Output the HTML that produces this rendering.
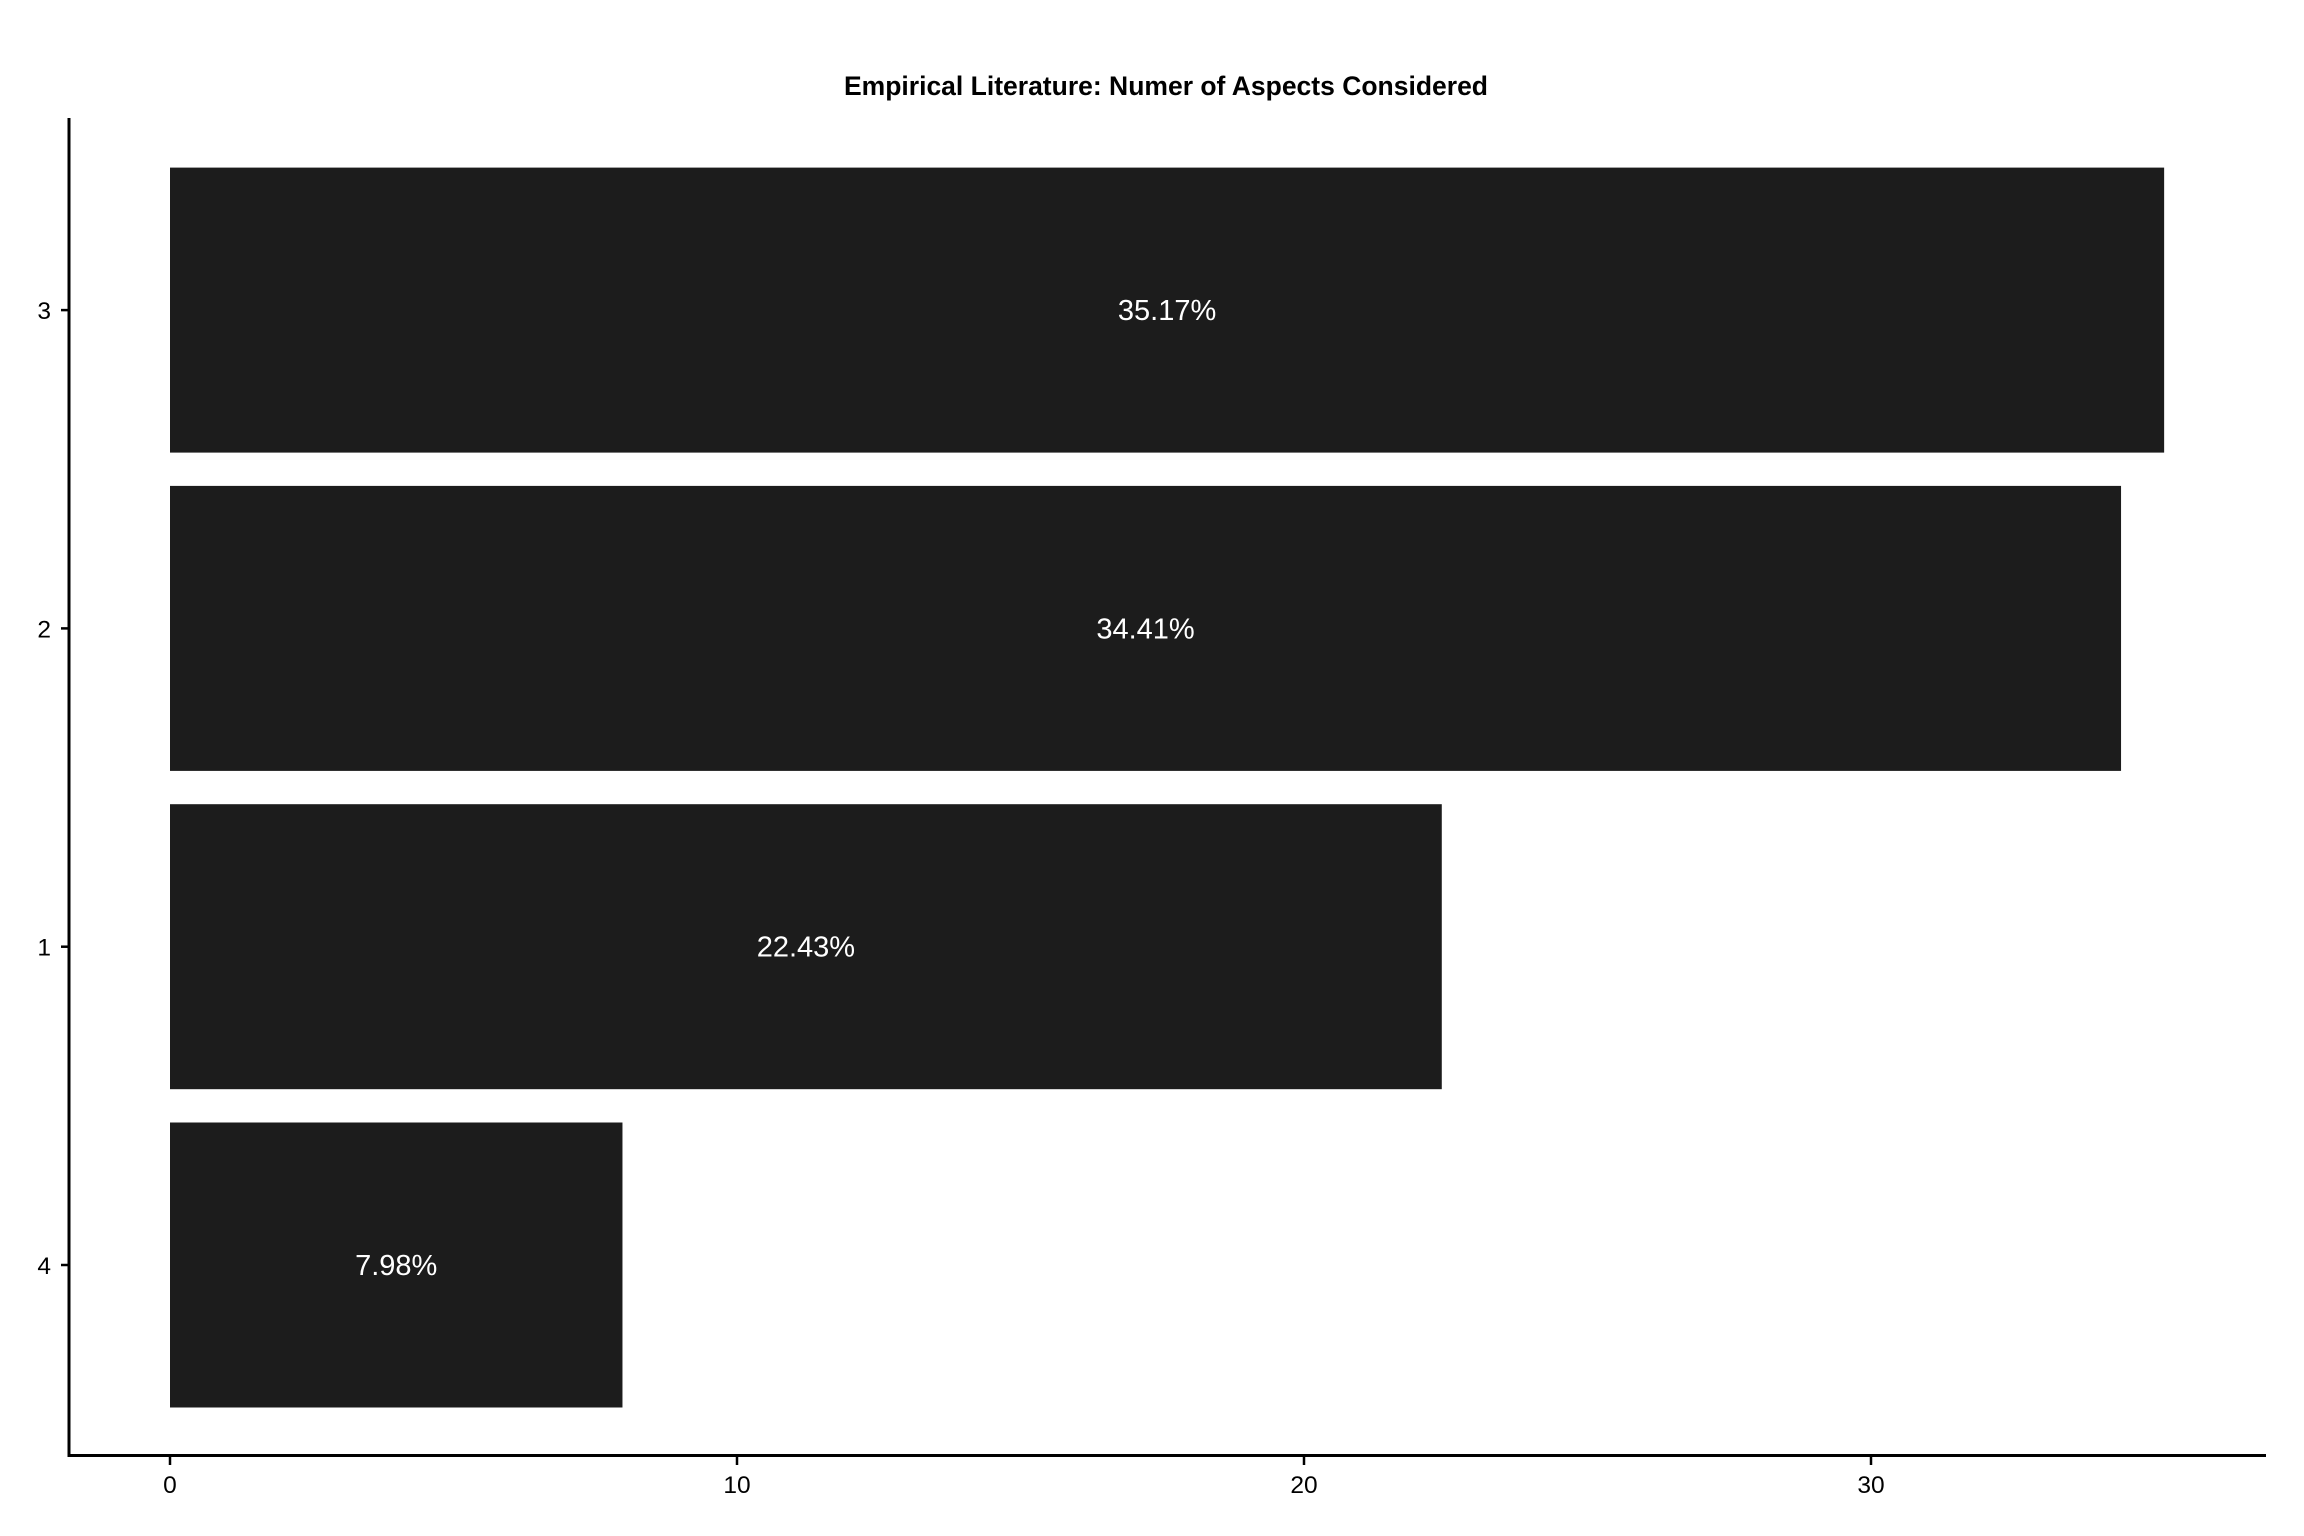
<!DOCTYPE html>
<html><head><meta charset="utf-8"><style>html,body{margin:0;padding:0;background:#fff;}svg{display:block;font-family:"Liberation Sans",sans-serif;}</style></head>
<body>
<svg id="chart" width="2304" height="1536">
<text x="1166" y="95" text-anchor="middle" font-size="26.5" font-weight="bold">Empirical Literature: Numer of Aspects Considered</text>
<g id="plot"></g>
</svg>
<script>
const categories = ["4","1","2","3"];
const values = [7.98, 22.43, 34.41, 35.17];
const labels = ["7.98%","22.43%","34.41%","35.17%"];
const xTicks = [0,10,20,30];
const ns="http://www.w3.org/2000/svg";
const g=document.getElementById('plot');
const x0=170, unit=56.7;
function xs(v){return x0+v*unit;}
const bandBottom=1265, pitch=318.3, barH=285;
function yc(i){return bandBottom - i*pitch;}
function mk(t,a){const e=document.createElementNS(ns,t);for(const k in a)e.setAttribute(k,a[k]);g.appendChild(e);return e;}
let ax=mk('line',{x1:69,y1:118,x2:69,y2:1457,stroke:'#000','stroke-width':3});


let axx=mk('line',{x1:67.5,y1:1455.5,x2:2266,y2:1455.5,stroke:'#000','stroke-width':3});


categories.forEach((c,i)=>{
  const y=yc(i);
  const r=mk('rect',{x:xs(0),y:y-barH/2,width:xs(values[i])-xs(0),height:barH,fill:'#1c1c1c'});
  
  
  const t=mk('text',{x:(xs(0)+xs(values[i]))/2,y:y+10,'text-anchor':'middle','font-size':29,fill:'#fff'});
  t.textContent=labels[i];
  
  
  const tk=mk('line',{x1:61,y1:y,x2:69,y2:y,stroke:'#000','stroke-width':2.5});
  
  
  const tl=mk('text',{x:51,y:y+9,'text-anchor':'end','font-size':24.5});
  tl.textContent=c;
  
  
});
xTicks.forEach(v=>{
  const x=xs(v);
  const tk=mk('line',{x1:x,y1:1457,x2:x,y2:1465,stroke:'#000','stroke-width':2.5});
  
  
  const tl=mk('text',{x:x,y:1493,'text-anchor':'middle','font-size':24.5});
  tl.textContent=v;
  
  
});
</script>
</body></html>
